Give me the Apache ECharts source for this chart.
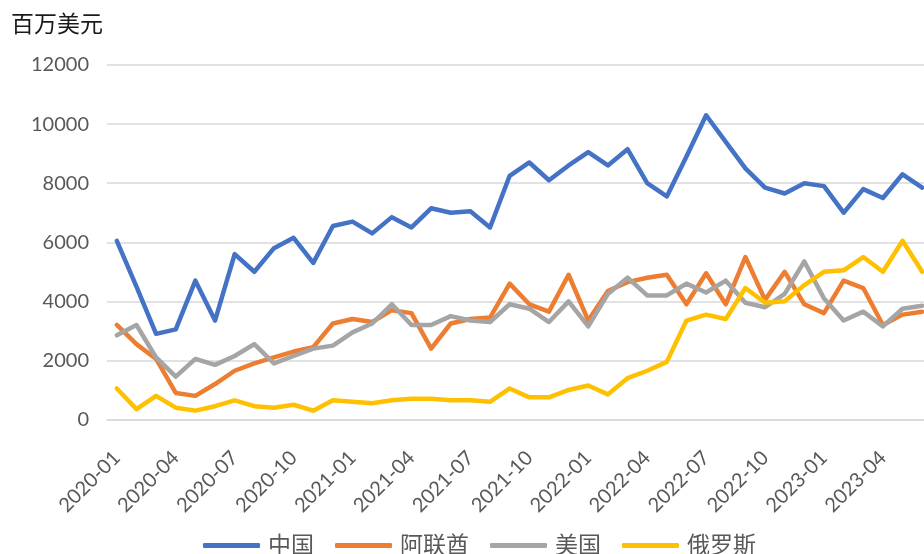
<!DOCTYPE html>
<html>
<head>
<meta charset="utf-8">
<title>进口额</title>
<script src="https://cdn.jsdelivr.net/npm/echarts@6/dist/echarts.min.js"></script>
<style>
  html, body { margin: 0; padding: 0; overflow: hidden; background: #fff; }
  #main { width: 940px; height: 554px; }
</style>
</head>
<body>
<div id="main"></div>
<script>
// 月份 2020-01 ~ 2023-06
const months = [
  '2020-01', '2020-02', '2020-03', '2020-04', '2020-05', '2020-06', '2020-07', '2020-08', '2020-09', '2020-10', '2020-11', '2020-12',
  '2021-01', '2021-02', '2021-03', '2021-04', '2021-05', '2021-06', '2021-07', '2021-08', '2021-09', '2021-10', '2021-11', '2021-12',
  '2022-01', '2022-02', '2022-03', '2022-04', '2022-05', '2022-06', '2022-07', '2022-08', '2022-09', '2022-10', '2022-11', '2022-12',
  '2023-01', '2023-02', '2023-03', '2023-04', '2023-05', '2023-06'
];
const seriesNames = ['中国', '阿联酋', '美国', '俄罗斯'];
const colors = ['#4472C4', '#ED7D31', '#A5A5A5', '#FFC000'];

// 单位：百万美元
const china = [
  6050, 4500, 2900, 3050, 4700, 3350, 5600, 5000, 5800, 6150, 5300, 6550,
  6700, 6300, 6850, 6500, 7150, 7000, 7050, 6500, 8250, 8700, 8100, 8600,
  9050, 8600, 9150, 8000, 7550, 8900, 10300, 9400, 8500, 7850, 7650, 8000,
  7900, 7000, 7800, 7500, 8300, 7850
];
const uae = [
  3200, 2550, 2050, 900, 800, 1200, 1650, 1900, 2100, 2300, 2450, 3250,
  3400, 3300, 3700, 3600, 2400, 3250, 3400, 3450, 4600, 3900, 3650, 4900,
  3350, 4350, 4650, 4800, 4900, 3900, 4950, 3900, 5500, 4050, 5000, 3900,
  3600, 4700, 4450, 3200, 3550, 3650
];
const usa = [
  2850, 3200, 2100, 1450, 2050, 1850, 2150, 2550, 1900, 2150, 2400, 2500,
  2950, 3250, 3900, 3200, 3200, 3500, 3350, 3300, 3900, 3750, 3300, 4000,
  3150, 4250, 4800, 4200, 4200, 4600, 4300, 4700, 3950, 3800, 4250, 5350,
  4100, 3350, 3650, 3150, 3750, 3850
];
const russia = [
  1050, 350, 800, 400, 300, 450, 650, 450, 400, 500, 300, 650,
  600, 550, 650, 700, 700, 650, 650, 600, 1050, 750, 750, 1000,
  1150, 850, 1400, 1650, 1950, 3350, 3550, 3400, 4450, 3950, 4000, 4550,
  5000, 5050, 5500, 5000, 6050, 5000
];
const yTicks = [0, 2000, 4000, 6000, 8000, 10000, 12000];

const allData = [china, uae, usa, russia];
const fontFamily = "Lato, 'Noto Sans CJK SC', sans-serif";

const chart = echarts.init(document.getElementById('main'));

const series = seriesNames.map((name, i) => ({
  name: name,
  type: 'line',
  data: allData[i],
  showSymbol: false,
  symbol: 'none',
  lineStyle: { width: 4.5, color: colors[i], cap: 'round', join: 'round' },
  itemStyle: { color: colors[i] },
  emphasis: { disabled: true }
}));

const options = {
  animation: false,
  color: colors,
  title: {
    text: '百万美元',
    left: 6,
    top: 8,
    textStyle: {
      fontSize: 23,
      fontWeight: 'normal',
      color: '#1a1a1a',
      fontFamily: fontFamily
    }
  },
  grid: {
    left: 107,
    top: 65,
    right: 8,
    bottom: 134.5,
    containLabel: false
  },
  legend: {
    data: seriesNames,
    left: 198,
    top: 529,
    icon: 'roundRect',
    itemWidth: 57,
    itemHeight: 5,
    itemGap: 21,
    textStyle: {
      fontSize: 23,
      color: '#595959',
      fontFamily: fontFamily,
      padding: [0, 0, 0, 3]
    }
  },
  xAxis: {
    type: 'category',
    data: months,
    boundaryGap: true,
    axisLine: { lineStyle: { color: '#d9d9d9', width: 1.5 } },
    axisTick: { interval: 2, length: 8, lineStyle: { color: '#d9d9d9', width: 1.5 } },
    axisLabel: {
      interval: 2,
      rotate: 45,
      margin: 35,
      fontSize: 20,
      color: '#595959',
      fontFamily: fontFamily
    },
    splitLine: { show: false }
  },
  yAxis: {
    type: 'value',
    min: yTicks[0],
    max: yTicks[yTicks.length - 1],
    interval: 2000,
    axisLine: { show: false },
    axisTick: { show: false },
    axisLabel: {
      margin: 18,
      fontSize: 20,
      color: '#595959',
      fontFamily: fontFamily,
      formatter: function(v) {
        return String(v);
      }
    },
    splitLine: { lineStyle: { color: '#d9d9d9', width: 1.5 } }
  },
  series: series
};

chart.setOption(options);
</script>
</body>
</html>
